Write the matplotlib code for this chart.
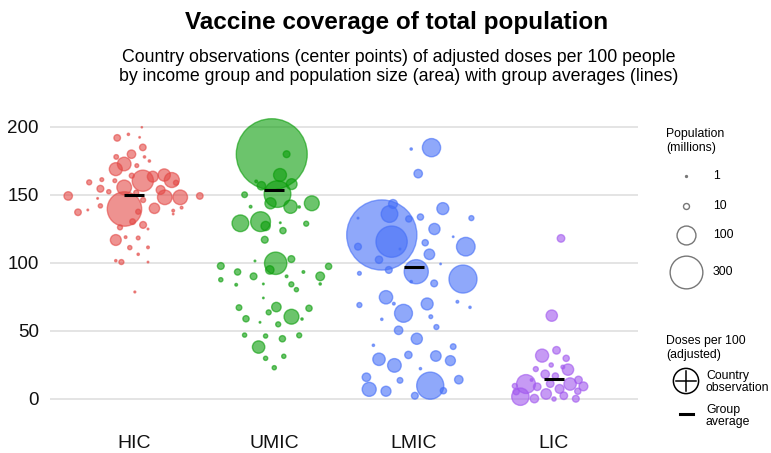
import numpy as np
import matplotlib
matplotlib.use("Agg")
import matplotlib.pyplot as plt
from matplotlib.lines import Line2D

plt.rcParams["font.family"] = ["Liberation Sans", "DejaVu Sans"]

groups = ["HIC", "UMIC", "LMIC", "LIC"]
colors = ["#E34946", "#0A9D0A", "#446EF7", "#A057EE"]
group_avg = [150, 153.4, 97, 15]

# doses per 100 (adjusted), horizontal jitter, population (millions)
hic_doses = [199.8, 192, 194.6, 192.4, 185, 178, 180, 178, 175, 172.8,
             169, 171.6, 164.2, 159.3, 161.3, 160.5, 160.5, 163.5, 164.7, 161,
             159, 155.6, 154.6, 152.4, 149.3, 151.7, 153.7, 148.3, 148.3, 149.3,
             147.5, 146.3, 139.7, 137.3, 139, 142, 137.7, 140.2, 138.5, 140.7,
             136, 130.4, 128, 126.2, 125, 116.9, 119, 118.4, 111.3, 111.5,
             106.4, 101.7, 100.7, 100.7, 78.7]
hic_jitter = [0.056, -0.12, -0.04, 0.04, 0.063, -0.127, -0.018, 0.075, 0.11, -0.07,
              -0.13, 0.02, -0.016, -0.32, -0.23, -0.137, 0.063, 0.134, 0.216, 0.27,
              0.3, -0.07, -0.24, -0.18, -0.47, 0.016, 0.19, 0.22, 0.33, 0.47,
              -0.26, 0.065, -0.068, -0.4, -0.33, -0.24, 0.03, 0.146, 0.28, 0.34,
              0.28, -0.01, 0.065, -0.1, 0.1, -0.13, -0.06, 0.03, -0.03, 0.1,
              0.03, -0.13, -0.09, 0.1, 0.006]
hic_pop = [0.5, 12, 1.5, 0.7, 12, 6, 20, 1.5, 1.5, 52,
           47, 4, 7, 7, 4, 4, 126, 33, 42, 63,
           7, 60, 13, 5, 20, 7, 22, 60, 60, 12,
           0.8, 7, 332, 12, 0.8, 5, 7, 30, 2, 2,
           0.7, 9, 13, 7, 0.8, 33, 2, 4, 5, 2,
           1.5, 1.5, 7, 0.7, 1]

umic_doses = [180, 180, 164.7, 156.8, 160, 158, 150.7, 150.2, 143.9, 141.4,
              143.9, 141.2, 141.4, 129.2, 130.4, 127.2, 129.6, 123.8, 128.9, 117.1,
              99.8, 94.9, 102.9, 101.5, 97.8, 97.5, 93.4, 90.2, 90.2, 93.4,
              90.2, 87.7, 84, 84.6, 84.3, 80.4, 84.6, 74.3, 67.2, 67.6,
              63.7, 60.5, 66.7, 59, 56.4, 54.9, 58.8, 47, 46.3, 44.3,
              46.8, 38.2, 29.9, 31.4, 23]
umic_jitter = [-0.016, 0.09, 0.043, -0.09, -0.127, 0.126, 0.025, -0.21, -0.025, 0.118,
               0.27, 0.18, -0.167, -0.24, -0.096, -0.06, 0.045, 0.064, 0.23, -0.066,
               0.012, -0.03, 0.124, -0.136, -0.38, 0.39, -0.26, -0.146, 0.33, 0.21,
               0.09, -0.38, -0.27, -0.076, 0.124, 0.16, 0.33, -0.076, -0.25, 0.017,
               -0.038, 0.125, 0.25, -0.2, -0.1, 0.03, 0.2, -0.21, -0.06, 0.06,
               0.18, -0.11, -0.06, 0.07, 0.002]
umic_pop = [1410, 13, 47, 20, 2, 33, 200, 9, 35, 50,
            62, 1.5, 2, 78, 110, 24, 0.8, 11, 7, 13,
            140, 20, 13, 0.8, 13, 11, 11, 13, 21, 2,
            2, 5, 2, 0.8, 7, 5, 1.5, 0.7, 9, 25,
            7, 62, 11, 11, 0.8, 7, 1.5, 5, 5, 11,
            7, 43, 5, 5, 5]

lmic_doses = [183.8, 184.8, 165.7, 120.6, 136, 143.4, 115.7, 132.4, 133.8, 140,
              133, 133, 125, 119.3, 112, 112, 114.9, 106.4, 102.4, 110.3,
              94.9, 93.6, 99.3, 92.4, 88.2, 85, 86.3, 74.8, 70.1, 69.1,
              63, 69.9, 71.5, 67.4, 58.6, 60.5, 52.9, 50.5, 44.3, 39.5,
              38.5, 29.2, 32.4, 31.6, 28.2, 24.7, 22.3, 16, 13.7, 14.2,
              7.1, 5.7, 9.8, 2.4, 6.1]
lmic_jitter = [-0.02, 0.125, 0.03, -0.23, -0.175, -0.15, -0.16, -0.037, 0.046, 0.206,
               0.41, -0.4, 0.146, 0.28, 0.37, -0.4, 0.08, 0.11, -0.25, -0.1,
               -0.18, 0.016, 0.19, -0.39, 0.35, 0.144, -0.02, -0.2, -0.144, -0.39,
               -0.075, 0.094, 0.31, 0.4, -0.23, 0.12, 0.16, -0.11, 0.02, -0.29,
               0.28, -0.25, -0.04, 0.156, 0.26, -0.14, 0.046, -0.34, -0.1, 0.32,
               -0.32, -0.2, 0.116, 0.006, 0.21]
lmic_pop = [1.5, 93, 20, 1380, 78, 22, 274, 11, 11, 40,
            7, 0.8, 35, 0.7, 97, 13, 11, 31, 15, 0.8,
            13, 163, 0.7, 4, 220, 13, 1.5, 50, 2, 7,
            90, 40, 2, 1.5, 1.5, 4, 7, 20, 35, 1.5,
            9, 43, 15, 31, 28, 52, 1.5, 20, 9, 20,
            55, 28, 206, 13, 11]

lic_doses = [118.1, 61.3, 31.9, 35.8, 29.9, 25, 22, 23.5, 21.6, 18.2,
             16.9, 11.3, 11, 1.7, 0.3, 9, 3.7, 7.4, 2.4, 0,
             11, 14, 9.3, 5.7, 0.2, 9.6, 5.4, 14]
lic_jitter = [0.05, -0.016, -0.085, 0.018, 0.087, -0.02, -0.13, 0.063, 0.1, -0.063,
              0.01, -0.027, -0.2, -0.24, -0.14, -0.12, -0.056, 0.04, 0.07, 0,
              0.115, 0.175, 0.21, 0.17, 0.156, -0.28, -0.27, -0.16]
lic_pop = [16, 36, 48, 16, 11, 5, 7, 4, 36, 20,
           11, 16, 100, 85, 20, 16, 31, 22, 16, 5,
           43, 16, 22, 11, 13, 7, 11, 2]

legend_pops = [1, 10, 100, 300]

all_doses = [hic_doses, umic_doses, lmic_doses, lic_doses]
all_jitter = [hic_jitter, umic_jitter, lmic_jitter, lic_jitter]
all_pop = [hic_pop, umic_pop, lmic_pop, lic_pop]

SIZE_K = 1.85  # marker area (pt^2) per million people

fig = plt.figure(figsize=(7.71, 4.53), dpi=100)
ax = fig.add_axes([50 / 771, 1 - 419.4 / 453, 588 / 771, 306 / 453])

for i in range(len(groups)):
    d = np.array(all_doses[i])
    x = i + np.array(all_jitter[i])
    p = np.array(all_pop[i])
    order = np.argsort(-p)  # big bubbles underneath
    ax.scatter(x[order], d[order], s=SIZE_K * p[order],
               color=colors[i], alpha=0.6, edgecolor=colors[i],
               linewidth=1.0, zorder=3, clip_on=False)
    ax.plot([i - 0.07, i + 0.07], [group_avg[i]] * 2,
            color="black", lw=2.2, zorder=5, solid_capstyle="butt")

ax.set_xlim(-0.6, 3.6)
ax.set_ylim(-15, 210)
ax.set_yticks([0, 50, 100, 150, 200])
ax.set_xticks(range(len(groups)))
ax.set_xticklabels(groups)
ax.tick_params(axis="both", length=0, colors="#111111")
ax.tick_params(axis="y", pad=8, labelsize=13.5)
ax.tick_params(axis="x", pad=11, labelsize=14)
ax.yaxis.grid(True, color="#E2E2E2", lw=1.3, zorder=0)
ax.set_axisbelow(True)
for sp in ax.spines.values():
    sp.set_visible(False)

fig.text(397 / 771, 1 - 23 / 453, "Vaccine coverage of total population",
         ha="center", va="center", fontsize=17.5, fontweight="bold")
fig.text(399 / 771, 1 - 67 / 453,
         "Country observations (center points) of adjusted doses per 100 people\n"
         "by income group and population size (area) with group averages (lines)",
         ha="center", va="center", fontsize=12.8, linespacing=1.12)

# legend drawn on an overlay in pixel coords
leg = fig.add_axes([0, 0, 1, 1])
leg.set_xlim(0, 771)
leg.set_ylim(453, 0)
leg.axis("off")

leg.text(666, 141, "Population\n(millions)", ha="left", va="center",
         fontsize=8.8, linespacing=1.2)
leg_y = [176, 206, 235, 272]
for pop, y in zip(legend_pops, leg_y):
    leg.scatter([686], [y], s=SIZE_K * pop, facecolor="white" if pop > 1 else "#999999",
                edgecolor="#777777", linewidth=1.0)
    leg.text(713, y, str(pop), ha="left", va="center", fontsize=8.8)

leg.text(666, 348, "Doses per 100\n(adjusted)", ha="left", va="center",
         fontsize=8.8, linespacing=1.2)
leg.scatter([686], [381], s=330, facecolor="none", edgecolor="black", linewidth=1.1)
leg.add_line(Line2D([676, 696], [381, 381], color="black", lw=1.1))
leg.add_line(Line2D([686, 686], [371, 391], color="black", lw=1.1))
leg.text(706, 382, "Country\nobservation", ha="left", va="center",
         fontsize=8.8, linespacing=1.1)
leg.add_line(Line2D([680, 693], [414, 414], color="black", lw=2.2))
leg.text(706, 416, "Group\naverage", ha="left", va="center",
         fontsize=8.8, linespacing=1.1)

fig.savefig("out.png", dpi=100)
